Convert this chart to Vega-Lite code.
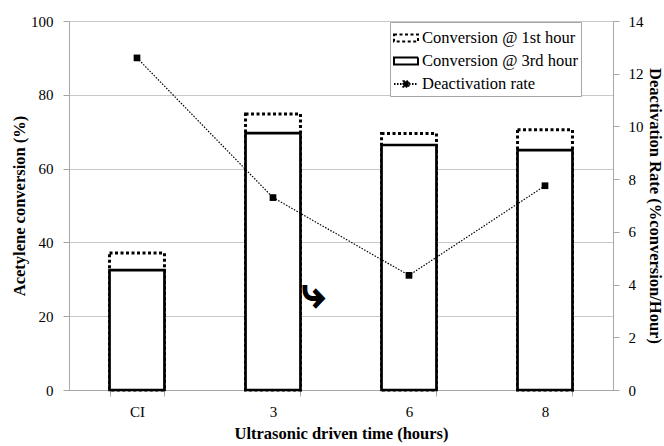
{
  "$schema": "https://vega.github.io/schema/vega-lite/v6.json",
  "width": 544,
  "height": 369,
  "autosize": {"type": "none"},
  "padding": {"left": 69, "top": 21, "right": 51, "bottom": 56},
  "background": "white",
  "config": {
    "font": "'Liberation Serif', 'DejaVu Serif', serif",
    "view": {"stroke": null},
    "axis": {
      "labelFont": "'Liberation Serif', 'DejaVu Serif', serif",
      "labelFontSize": 15,
      "labelColor": "black",
      "titleFont": "'Liberation Serif', 'DejaVu Serif', serif",
      "titleFontSize": 16.5,
      "titleFontWeight": "bold",
      "titleColor": "black",
      "domainColor": "#a6a6a6",
      "tickColor": "#a6a6a6",
      "gridColor": "#c8c8c8",
      "tickSize": 6
    },
    "legend": {
      "labelFont": "Liberation Serif",
      "labelFontSize": 16.5,
      "labelColor": "black",
      "symbolStrokeColor": "black",
      "symbolStrokeWidth": 2
    }
  },
  "datasets": {
    "conv": [
      {"cat": "CI", "series": "Conversion @ 1st hour", "value": 37.1},
      {"cat": "3", "series": "Conversion @ 1st hour", "value": 74.8},
      {"cat": "6", "series": "Conversion @ 1st hour", "value": 69.5},
      {"cat": "8", "series": "Conversion @ 1st hour", "value": 70.5},
      {"cat": "CI", "series": "Conversion @ 3rd hour", "value": 32.5},
      {"cat": "3", "series": "Conversion @ 3rd hour", "value": 69.6},
      {"cat": "6", "series": "Conversion @ 3rd hour", "value": 66.4},
      {"cat": "8", "series": "Conversion @ 3rd hour", "value": 65.0}
    ],
    "rate": [
      {"cat": "CI", "series": "Deactivation rate", "rate": 12.6},
      {"cat": "3", "series": "Deactivation rate", "rate": 7.3},
      {"cat": "6", "series": "Deactivation rate", "rate": 4.35},
      {"cat": "8", "series": "Deactivation rate", "rate": 7.75}
    ],
    "note": [
      {"cat": "3", "value": 26, "label": "⤷"}
    ]
  },
  "resolve": {"scale": {"y": "independent"}},
  "layer": [
    {
      "layer": [
        {
          "data": {"name": "conv"},
          "transform": [{"filter": "datum.series === 'Conversion @ 1st hour'"}],
          "mark": {"type": "bar", "fill": "white", "stroke": "black", "strokeWidth": 3},
          "encoding": {
            "x": {"field": "cat", "type": "nominal", "sort": ["CI", "3", "6", "8"],
              "scale": {"paddingInner": 0.596, "paddingOuter": 0.298},
              "axis": {"title": "Ultrasonic driven time (hours)", "labelAngle": 0, "tickBand": "extent", "labelPadding": 8, "titlePadding": 6}},
            "y": {"field": "value", "type": "quantitative",
              "scale": {"domain": [0, 100]},
              "axis": {"title": "Acetylene conversion (%)", "values": [0, 20, 40, 60, 80, 100], "grid": true, "labelPadding": 10, "titlePadding": 3}},
            "strokeDash": {"field": "series", "type": "nominal",
              "scale": {"domain": ["Conversion @ 1st hour", "Conversion @ 3rd hour", "Deactivation rate"], "range": [[3, 2.5], [1, 0], [1.5, 1.5]]},
              "legend": {
                "title": null,
                "orient": "none",
                "legendX": 321,
                "legendY": 1,
                "fillColor": "white",
                "strokeColor": "#a6a6a6",
                "padding": 3,
                "labelOffset": 3,
                "labelFont": "Liberation Serif",
                "labelFontSize": 16.5,
                "symbolSize": 576,
                "rowPadding": 1,
                "symbolType": "M-1,-0.3H1V0.3H-1Z"
              }}
          }
        },
        {
          "data": {"name": "conv"},
          "transform": [{"filter": "datum.series === 'Conversion @ 3rd hour'"}],
          "mark": {"type": "bar", "fill": "white", "stroke": "black", "strokeWidth": 2.7},
          "encoding": {
            "x": {"field": "cat", "type": "nominal", "sort": ["CI", "3", "6", "8"]},
            "y": {"field": "value", "type": "quantitative"}
          }
        },
        {
          "data": {"name": "note"},
          "mark": {"type": "text", "font": "DejaVu Sans", "fontWeight": "bold", "fontSize": 40, "color": "black", "stroke": "black", "strokeWidth": 1.5, "dx": 40},
          "encoding": {
            "x": {"field": "cat", "type": "nominal", "sort": ["CI", "3", "6", "8"]},
            "y": {"field": "value", "type": "quantitative"},
            "text": {"field": "label"}
          }
        }
      ]
    },
    {
      "data": {"name": "rate"},
      "layer": [
        {
          "mark": {"type": "line", "color": "black", "strokeWidth": 1.2, "strokeDash": [1.5, 1.5]},
          "encoding": {
            "x": {"field": "cat", "type": "nominal", "sort": ["CI", "3", "6", "8"]},
            "y": {"field": "rate", "type": "quantitative",
              "scale": {"domain": [0, 14]},
              "axis": {"orient": "right", "title": "Deactivation Rate (%conversion/Hour)", "values": [0, 2, 4, 6, 8, 10, 12, 14], "grid": false, "labelPadding": 9, "titlePadding": 3}}
          }
        },
        {
          "mark": {"type": "point", "shape": "square", "filled": true, "color": "black", "size": 45, "opacity": 1},
          "encoding": {
            "x": {"field": "cat", "type": "nominal", "sort": ["CI", "3", "6", "8"]},
            "y": {"field": "rate", "type": "quantitative"}
          }
        },
        {
          "mark": {"type": "point", "size": 0, "strokeWidth": 2, "opacity": 1},
          "encoding": {
            "x": {"field": "cat", "type": "nominal", "sort": ["CI", "3", "6", "8"]},
            "y": {"field": "rate", "type": "quantitative"},
            "shape": {"field": "series", "type": "nominal",
              "scale": {"domain": ["Conversion @ 1st hour", "Conversion @ 3rd hour", "Deactivation rate"], "range": ["M-1,-0.3H1V0.3H-1Z", "M-1,-0.3H1V0.3H-1Z", "M-1,0H1M-0.22,-0.22H0.22V0.22H-0.22Z"]},
              "legend": {"title": null, "orient": "none", "legendX": 321, "legendY": 1, "labelFont": "Liberation Serif", "labelFontSize": 16.5}},
            "fill": {"field": "series", "type": "nominal",
              "scale": {"domain": ["Conversion @ 1st hour", "Conversion @ 3rd hour", "Deactivation rate"], "range": ["white", "white", "black"]},
              "legend": {"title": null, "orient": "none", "legendX": 321, "legendY": 1, "labelFont": "Liberation Serif", "labelFontSize": 16.5}},
            "stroke": {"field": "series", "type": "nominal",
              "scale": {"domain": ["Conversion @ 1st hour", "Conversion @ 3rd hour", "Deactivation rate"], "range": ["black", "black", "black"]},
              "legend": {"title": null, "orient": "none", "legendX": 321, "legendY": 1, "labelFont": "Liberation Serif", "labelFontSize": 16.5}}
          }
        }
      ]
    }
  ]
}
